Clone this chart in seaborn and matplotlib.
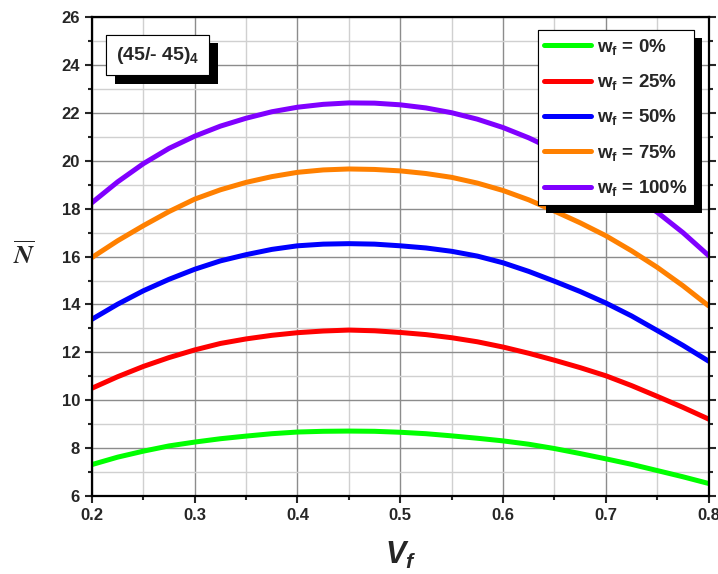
import matplotlib
matplotlib.use("Agg")
import matplotlib.pyplot as plt
import matplotlib.patheffects as pe
from matplotlib.ticker import MultipleLocator
import seaborn as sns

# volume fraction of fibres
vf = [0.2, 0.225, 0.25, 0.275, 0.3, 0.325, 0.35, 0.375, 0.4, 0.425, 0.45, 0.475, 0.5,
      0.525, 0.55, 0.575, 0.6, 0.625, 0.65, 0.675, 0.7, 0.725, 0.75, 0.775, 0.8]

# N-bar for each w_f
n_w0 = [7.31, 7.62, 7.87, 8.09, 8.25, 8.39, 8.50, 8.60, 8.67, 8.70, 8.71, 8.70, 8.66,
        8.60, 8.51, 8.41, 8.30, 8.16, 7.98, 7.77, 7.55, 7.32, 7.06, 6.80, 6.52]
n_w25 = [10.50, 10.98, 11.41, 11.78, 12.10, 12.37, 12.56, 12.71, 12.82, 12.89, 12.93, 12.90, 12.83,
         12.74, 12.61, 12.44, 12.22, 11.96, 11.67, 11.36, 11.02, 10.61, 10.16, 9.70, 9.21]
n_w50 = [13.38, 14.01, 14.57, 15.05, 15.47, 15.82, 16.08, 16.30, 16.45, 16.52, 16.54, 16.52, 16.45,
         16.36, 16.22, 16.02, 15.74, 15.38, 14.97, 14.54, 14.06, 13.52, 12.91, 12.29, 11.63]
n_w75 = [15.96, 16.66, 17.29, 17.88, 18.40, 18.79, 19.10, 19.34, 19.52, 19.62, 19.66, 19.64, 19.58,
         19.47, 19.31, 19.07, 18.76, 18.37, 17.90, 17.41, 16.87, 16.24, 15.55, 14.78, 13.94]
n_w100 = [18.25, 19.12, 19.88, 20.52, 21.03, 21.45, 21.78, 22.05, 22.24, 22.36, 22.42, 22.41, 22.34,
          22.21, 22.01, 21.74, 21.39, 20.96, 20.45, 19.88, 19.26, 18.58, 17.85, 17.00, 16.04]

labels = [r'$\mathbf{w_f}$ = 0%', r'$\mathbf{w_f}$ = 25%', r'$\mathbf{w_f}$ = 50%',
          r'$\mathbf{w_f}$ = 75%', r'$\mathbf{w_f}$ = 100%']
colors = ['#00ff00', '#ff0000', '#0000ff', '#ff8000', '#8000ff']

sns.set_style('ticks')
plt.rcParams['font.family'] = ['Liberation Sans', 'DejaVu Sans']
plt.rcParams['font.weight'] = 'bold'
plt.rcParams['mathtext.fontset'] = 'custom'
plt.rcParams['mathtext.rm'] = 'Liberation Sans:bold'
plt.rcParams['mathtext.bf'] = 'Liberation Sans:bold'
plt.rcParams['mathtext.it'] = 'Liberation Sans:italic:bold'

fig = plt.figure(figsize=(7.18, 5.74), dpi=100)
ax = fig.add_axes([0.128, 0.136, 0.859, 0.834])

for vals, c, lab in zip([n_w0, n_w25, n_w50, n_w75, n_w100], colors, labels):
    sns.lineplot(x=vf, y=vals, color=c, lw=3.6, label=lab, ax=ax)

ax.set_xlim(0.2, 0.8)
ax.set_ylim(6, 26)
ax.xaxis.set_major_locator(MultipleLocator(0.1))
ax.xaxis.set_minor_locator(MultipleLocator(0.05))
ax.yaxis.set_major_locator(MultipleLocator(2))
ax.yaxis.set_minor_locator(MultipleLocator(1))
ax.grid(which='major', color='#8c8c8c', lw=1.0)
ax.grid(which='minor', color='#d0d0d0', lw=1.0)
ax.set_axisbelow(True)

for s in ax.spines.values():
    s.set_linewidth(1.6)
    s.set_color('black')
ax.tick_params(which='both', direction='out', width=1.5, labelsize=12,
               right=True, top=False)
ax.tick_params(which='major', length=5)
ax.tick_params(which='minor', length=3)
for t in ax.get_xticklabels() + ax.get_yticklabels():
    t.set_fontweight('bold')

ax.set_xlabel(r'$V_f$', fontsize=22)
ax.xaxis.set_label_coords(0.5, -0.092)
ax.set_ylabel(r'$\overline{N}$', fontsize=19, rotation=0, math_fontfamily='stix',
              va='center', ha='center')
ax.yaxis.set_label_coords(-0.109, 0.503)

leg = ax.legend(loc='upper right', bbox_to_anchor=(0.976, 0.973), borderaxespad=0,
                fancybox=False, framealpha=1, edgecolor='black', fontsize=13.5,
                handlelength=2.5, labelspacing=0.82, borderpad=0.35, handletextpad=0.3)
leg.get_frame().set_linewidth(0.8)
leg.get_frame().set_path_effects([pe.withSimplePatchShadow(offset=(6, -6),
                                  shadow_rgbFace='black', alpha=1.0), pe.Normal()])

txt = ax.text(0.107, 0.921, r'(45/- 45)$_\mathbf{4}$', transform=ax.transAxes,
              ha='center', va='center', fontsize=14, fontweight='bold',
              bbox=dict(boxstyle='square,pad=0.5', fc='white', ec='black', lw=0.8))
txt.get_bbox_patch().set_path_effects([pe.withSimplePatchShadow(offset=(6, -6),
                                       shadow_rgbFace='black', alpha=1.0), pe.Normal()])

fig.savefig('out.png', dpi=100)
